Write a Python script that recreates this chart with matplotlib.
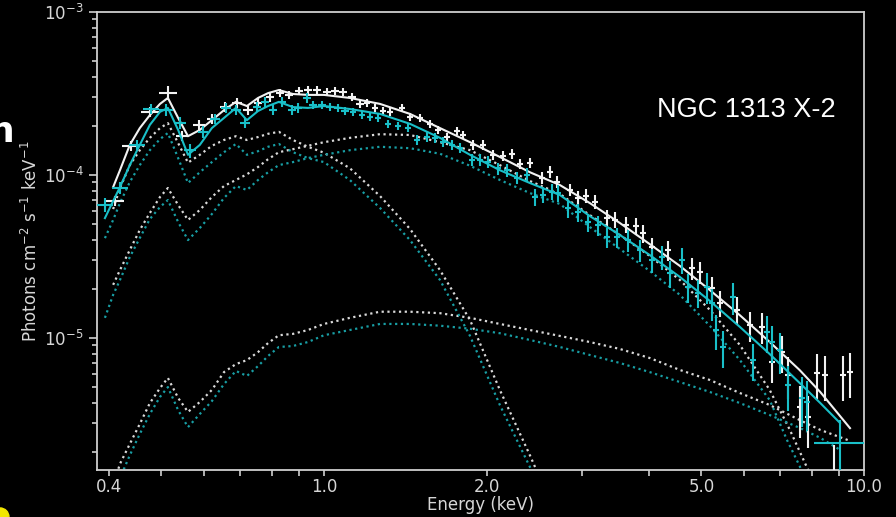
import numpy as np
import matplotlib
matplotlib.use("Agg")
import matplotlib.pyplot as plt
from matplotlib.ticker import FixedLocator, FixedFormatter, NullFormatter, LogLocator
from matplotlib.patches import Ellipse

nan = np.nan

# energy grid of the folded models (keV)
e_model = [0.393, 0.407, 0.419, 0.437, 0.456, 0.476, 0.497, 0.514, 0.537, 0.560,
           0.589, 0.620, 0.653, 0.687, 0.720, 0.755, 0.788, 0.825, 0.876, 0.934,
           1.000, 1.117, 1.270, 1.443, 1.640, 1.864, 2.117, 2.406, 2.567, 2.734,
           3.106, 3.530, 4.010, 4.560, 5.180, 5.890, 6.690, 7.200, 7.290, 7.600,
           7.780, 7.880, 8.110, 8.300, 9.030, 9.420]

# total model, white (pn) and cyan (MOS)
tot_w = [nan, 8.43e-5, 1.07e-4, 1.53e-4, 1.94e-4, 2.33e-4, 2.73e-4, 2.97e-4, 2.24e-4, 1.73e-4,
         1.89e-4, 2.17e-4, 2.50e-4, 2.81e-4, 2.65e-4, 2.97e-4, 3.18e-4, 3.32e-4, 3.14e-4, 3.10e-4,
         3.10e-4, 2.97e-4, 2.73e-4, 2.37e-4, 1.94e-4, 1.59e-4, 1.29e-4, 1.04e-4, nan, 8.68e-5,
         6.73e-5, 5.08e-5, 3.77e-5, 2.77e-5, 1.97e-5, 1.38e-5, 9.45e-6, nan, nan, 6.36e-6,
         nan, nan, nan, 4.66e-6, nan, 2.80e-6]
tot_c = [5.44e-5, 6.92e-5, 8.43e-5, 1.15e-4, 1.53e-4, 2.03e-4, 2.44e-4, 2.58e-4, 1.89e-4, 1.33e-4,
         1.53e-4, 1.94e-4, 2.24e-4, 2.58e-4, 2.17e-4, 2.47e-4, 2.65e-4, 2.81e-4, 2.61e-4, 2.58e-4,
         2.65e-4, 2.54e-4, 2.37e-4, 2.06e-4, 1.69e-4, 1.33e-4, 1.07e-4, 8.93e-5, nan, 7.54e-5,
         5.60e-5, 4.29e-5, 3.23e-5, 2.37e-5, 1.69e-5, 1.17e-5, 7.97e-6, nan, nan, 5.30e-6,
         nan, nan, nan, 3.99e-6, 3.01e-6, nan]

# disc component
disk_w = [nan, 6.18e-5, 8.32e-5, 1.15e-4, 1.42e-4, 1.69e-4, 1.94e-4, 2.08e-4, 1.57e-4, 1.19e-4,
          1.33e-4, 1.51e-4, 1.64e-4, 1.73e-4, 1.64e-4, 1.71e-4, 1.79e-4, 1.84e-4, 1.64e-4, 1.49e-4,
          1.37e-4, 1.10e-4, 7.43e-5, 4.67e-5, 2.61e-5, 1.29e-5, 4.80e-6, 1.91e-6, 1.17e-6] + [nan] * 17
disk_c = [4.10e-5, 5.30e-5, 6.73e-5, 9.06e-5, 1.15e-4, 1.42e-4, 1.66e-4, 1.81e-4, 1.27e-4, 8.93e-5,
          1.04e-4, 1.20e-4, 1.38e-4, 1.55e-4, 1.33e-4, 1.40e-4, 1.49e-4, 1.55e-4, 1.38e-4, 1.27e-4,
          1.20e-4, 9.31e-5, 6.28e-5, 3.99e-5, 2.27e-5, 1.03e-5, 3.88e-6, 1.62e-6, 1.01e-6] + [nan] * 17

# hot (cut-off) component
hot_w = [nan, 2.12e-5, 2.61e-5, 3.47e-5, 4.60e-5, 5.85e-5, 7.33e-5, 8.32e-5, 6.55e-5, 5.30e-5,
         6.10e-5, 7.33e-5, 8.56e-5, 9.32e-5, 1.01e-4, 1.12e-4, 1.25e-4, 1.38e-4, 1.44e-4, 1.51e-4,
         1.59e-4, 1.69e-4, 1.78e-4, 1.76e-4, 1.59e-4, 1.42e-4, 1.15e-4, 9.19e-5, nan, 7.65e-5,
         5.68e-5, 4.29e-5, 3.19e-5, 2.27e-5, 1.49e-5, 9.06e-6, 4.80e-6, nan, 2.73e-6, nan,
         nan, 1.55e-6, 1.17e-6, nan, nan, nan]
hot_c = [1.33e-5, 1.84e-5, 2.27e-5, 3.14e-5, 4.11e-5, 5.37e-5, 6.36e-5, 7.02e-5, 5.15e-5, 3.99e-5,
         4.73e-5, 5.76e-5, 7.23e-5, 8.56e-5, 8.09e-5, 9.32e-5, 1.04e-4, 1.15e-4, 1.20e-4, 1.27e-4,
         1.33e-4, 1.42e-4, 1.49e-4, 1.46e-4, 1.35e-4, 1.14e-4, 9.32e-5, 7.75e-5, nan, 6.64e-5,
         4.80e-5, 3.52e-5, 2.58e-5, 1.84e-5, 1.19e-5, 7.33e-6, 4.16e-6, 2.37e-6, nan, 1.64e-6,
         1.35e-6, nan, nan, nan, nan, nan]

# faint broad component
pl_w = [nan, 1.25e-6, 1.69e-6, 2.24e-6, 2.97e-6, 3.99e-6, 4.93e-6, 5.69e-6, 4.29e-6, 3.52e-6,
        4.05e-6, 4.80e-6, 6.18e-6, 6.92e-6, 7.32e-6, 8.20e-6, 9.31e-6, 1.04e-5, 1.06e-5, 1.12e-5,
        1.22e-5, 1.33e-5, 1.45e-5, 1.45e-5, 1.42e-5, 1.33e-5, 1.22e-5, 1.12e-5, nan, 1.03e-5,
        9.45e-6, 8.57e-6, 7.54e-6, 6.37e-6, 5.53e-6, 4.60e-6, 3.88e-6, nan, nan, 3.14e-6,
        nan, nan, nan, 2.73e-6, nan, 2.34e-6]
pl_c = [nan, 1.17e-6, 1.38e-6, 1.91e-6, 2.58e-6, 3.42e-6, 4.35e-6, 5.00e-6, 3.61e-6, 2.84e-6,
        3.42e-6, 4.10e-6, 5.22e-6, 6.28e-6, 5.85e-6, 6.73e-6, 7.76e-6, 8.81e-6, 8.93e-6, 9.45e-6,
        1.04e-5, 1.12e-5, 1.22e-5, 1.22e-5, 1.19e-5, 1.14e-5, 1.07e-5, 9.73e-6, nan, 8.81e-6,
        7.87e-6, 7.03e-6, 6.18e-6, 5.37e-6, 4.67e-6, 3.99e-6, 3.37e-6, nan, nan, 2.81e-6,
        nan, nan, nan, 2.44e-6, 2.06e-6, nan]

# pn data: energy, half bin width, flux, flux error
e_w = [0.410, 0.439, 0.476, 0.514, 0.546, 0.587, 0.620, 0.656, 0.690, 0.723,
       0.755, 0.794, 0.829, 0.861, 0.899, 0.934, 0.971, 1.013, 1.048, 1.084,
       1.127, 1.166, 1.201, 1.243, 1.286, 1.325, 1.395, 1.443, 1.506, 1.571,
       1.626, 1.690, 1.763, 1.809, 1.888, 1.970, 2.056, 2.145, 2.229, 2.307,
       2.407, 2.533, 2.621, 2.701, 2.855, 2.954, 3.056, 3.176, 3.343, 3.459,
       3.625, 3.783, 3.897, 4.050, 4.336, 4.803, 4.969, 5.230, 5.412, 5.819,
       6.151, 6.473, 6.755, 7.049, 7.232, 7.612, 7.876, 8.184, 8.468, 9.143,
       9.421, 8.799]
de_w = [0.0157, 0.0169, 0.0183, 0.0197, 0.0140, 0.0150, 0.0132, 0.0140, 0.0147, 0.0154,
        0.0129, 0.0135, 0.0141, 0.0147, 0.0153, 0.0159, 0.0166, 0.0173, 0.0179, 0.0185,
        0.0192, 0.0199, 0.0154, 0.0159, 0.0165, 0.0170, 0.0178, 0.0185, 0.0193, 0.0201,
        0.0208, 0.0216, 0.0226, 0.0231, 0.0241, 0.0252, 0.0263, 0.0274, 0.0285, 0.0295,
        0.0308, 0.0324, 0.0335, 0.0345, 0.0365, 0.0378, 0.0391, 0.0406, 0.0428, 0.0442,
        0.0464, 0.0484, 0.0498, 0.0518, 0.0555, 0.0614, 0.0636, 0.0669, 0.0692, 0.0744,
        0.0787, 0.0828, 0.0864, 0.0902, 0.0925, 0.0974, 0.1008, 0.1047, 0.1083, 0.1170,
        0.1205, 0.1126]
f_w = [6.93e-5, 1.51e-4, 2.44e-4, 3.19e-4, 1.73e-4, 2.03e-4, 2.21e-4, 2.61e-4, 2.77e-4, 2.50e-4,
       2.77e-4, 3.01e-4, 3.19e-4, 3.10e-4, 3.28e-4, 3.32e-4, 3.32e-4, 3.23e-4, 3.28e-4, 3.23e-4,
       3.01e-4, 2.73e-4, 2.77e-4, 2.58e-4, 2.47e-4, 2.44e-4, 2.58e-4, 2.27e-4, 2.24e-4, 2.06e-4,
       1.89e-4, 1.71e-4, 1.86e-4, 1.76e-4, 1.53e-4, 1.53e-4, 1.33e-4, 1.31e-4, 1.35e-4, 1.17e-4,
       1.19e-4, 9.59e-5, 1.04e-4, 9.06e-5, 8.09e-5, 7.23e-5, 7.43e-5, 6.83e-5, 5.45e-5, 5.30e-5,
       4.94e-5, 4.87e-5, 4.41e-5, 3.62e-5, 3.47e-5, 2.69e-5, 2.54e-5, 2.03e-5, 1.64e-5, 1.49e-5,
       1.20e-5, 1.17e-5, 7.12e-6, 8.20e-6, 5.93e-6, 3.77e-6, 3.27e-6, 6.10e-6, 5.93e-6, 5.93e-6,
       6.19e-6, 1.17e-6]
df_w = [4.9e-6, 1.07e-5, 1.72e-5, 3.16e-5, 1.22e-5, 1.43e-5, 1.56e-5, 1.84e-5, 1.96e-5, 1.77e-5,
        1.96e-5, 2.13e-5, 1.80e-5, 1.75e-5, 1.85e-5, 1.88e-5, 1.88e-5, 1.83e-5, 1.85e-5, 1.83e-5,
        1.70e-5, 1.54e-5, 1.56e-5, 1.46e-5, 1.40e-5, 1.38e-5, 1.46e-5, 1.28e-5, 1.27e-5, 1.16e-5,
        1.07e-5, 9.7e-6, 1.05e-5, 9.9e-6, 1.08e-5, 1.08e-5, 9.4e-6, 9.3e-6, 9.5e-6, 8.3e-6,
        8.4e-6, 8.1e-6, 8.8e-6, 7.7e-6, 6.9e-6, 7.2e-6, 7.3e-6, 6.8e-6, 6.2e-6, 6.0e-6,
        5.6e-6, 5.5e-6, 5.6e-6, 5.1e-6, 4.9e-6, 4.2e-6, 3.9e-6, 3.4e-6, 3.0e-6, 2.9e-6,
        2.5e-6, 2.5e-6, 1.81e-6, 2.09e-6, 1.68e-6, 1.33e-6, 1.16e-6, 1.90e-6, 1.84e-6, 1.84e-6,
        1.92e-6, 1.03e-6]

# MOS data
e_c = [0.393, 0.419, 0.451, 0.478, 0.510, 0.541, 0.565, 0.597, 0.628, 0.658,
       0.687, 0.714, 0.752, 0.778, 0.805, 0.836, 0.873, 0.895, 0.930, 0.954,
       0.992, 1.026, 1.062, 1.094, 1.132, 1.176, 1.217, 1.259, 1.314, 1.371,
       1.431, 1.487, 1.552, 1.605, 1.661, 1.726, 1.786, 1.880, 1.945, 2.012,
       2.100, 2.182, 2.277, 2.377, 2.459, 2.544, 2.644, 2.712, 2.830, 2.954,
       3.082, 3.217, 3.343, 3.488, 3.656, 3.848, 4.050, 4.226, 4.373, 4.602,
       4.722, 4.927, 5.120, 5.230, 5.320, 5.482, 5.721, 6.230, 6.613, 6.755,
       6.990, 7.232, 7.677, 7.843, 9.027]
de_c = [0.0134, 0.0143, 0.0154, 0.0163, 0.0152, 0.0138, 0.0144, 0.0127, 0.0134, 0.0140,
        0.0146, 0.0152, 0.0128, 0.0133, 0.0137, 0.0143, 0.0149, 0.0153, 0.0159, 0.0163,
        0.0169, 0.0175, 0.0181, 0.0187, 0.0145, 0.0150, 0.0156, 0.0161, 0.0168, 0.0175,
        0.0183, 0.0190, 0.0198, 0.0205, 0.0212, 0.0221, 0.0228, 0.0240, 0.0249, 0.0257,
        0.0269, 0.0279, 0.0291, 0.0304, 0.0315, 0.0325, 0.0338, 0.0347, 0.0362, 0.0378,
        0.0394, 0.0411, 0.0428, 0.0446, 0.0468, 0.0492, 0.0518, 0.0541, 0.0559, 0.0589,
        0.0604, 0.0630, 0.0655, 0.0669, 0.0681, 0.0701, 0.0732, 0.0797, 0.0846, 0.0864,
        0.0894, 0.0925, 0.0982, 0.1003, 0.962]
f_c = [6.55e-5, 8.32e-5, 1.53e-4, 2.54e-4, 2.50e-4, 2.08e-4, 1.42e-4, 1.84e-4, 2.21e-4, 2.58e-4,
       2.50e-4, 2.08e-4, 2.61e-4, 2.80e-4, 2.50e-4, 2.80e-4, 2.50e-4, 2.58e-4, 2.97e-4, 2.69e-4,
       2.69e-4, 2.61e-4, 2.58e-4, 2.47e-4, 2.44e-4, 2.33e-4, 2.27e-4, 2.24e-4, 2.06e-4, 2.00e-4,
       1.94e-4, 1.64e-4, 1.71e-4, 1.69e-4, 1.59e-4, 1.53e-4, 1.46e-4, 1.24e-4, 1.24e-4, 1.20e-4,
       1.10e-4, 1.07e-4, 9.59e-5, 1.00e-4, 7.33e-5, 7.54e-5, 7.87e-5, 7.75e-5, 6.27e-5, 5.93e-5,
       5.15e-5, 4.94e-5, 4.17e-5, 4.17e-5, 3.99e-5, 3.47e-5, 3.01e-5, 3.14e-5, 2.50e-5, 3.01e-5,
       2.06e-5, 1.89e-5, 2.06e-5, 1.64e-5, 1.12e-5, 8.81e-6, 1.79e-5, 7.33e-6, 1.09e-5, 9.45e-6,
       8.43e-6, 5.15e-6, 4.28e-6, 4.05e-6, 2.27e-6]
df_c = [6.5e-6, 7.1e-6, 1.08e-5, 1.79e-5, 2.12e-5, 1.76e-5, 1.40e-5, 1.56e-5, 1.56e-5, 1.82e-5,
        1.77e-5, 1.47e-5, 1.84e-5, 1.98e-5, 1.77e-5, 1.98e-5, 1.77e-5, 1.82e-5, 2.10e-5, 1.52e-5,
        1.52e-5, 1.48e-5, 1.46e-5, 1.40e-5, 1.38e-5, 1.32e-5, 1.28e-5, 1.27e-5, 1.16e-5, 1.13e-5,
        1.10e-5, 1.16e-5, 1.21e-5, 1.19e-5, 1.12e-5, 1.08e-5, 1.03e-5, 1.05e-5, 1.05e-5, 1.02e-5,
        9.3e-6, 9.1e-6, 8.1e-6, 9.9e-6, 8.3e-6, 8.5e-6, 8.9e-6, 8.8e-6, 8.0e-6, 7.5e-6,
        6.5e-6, 7.0e-6, 5.9e-6, 5.9e-6, 6.2e-6, 5.4e-6, 5.1e-6, 5.3e-6, 4.6e-6, 5.5e-6,
        4.1e-6, 3.7e-6, 4.4e-6, 3.7e-6, 2.7e-6, 2.24e-6, 4.0e-6, 1.86e-6, 2.8e-6, 2.40e-6,
        2.38e-6, 1.60e-6, 1.45e-6, 1.37e-6, 0.87e-6]

white = "#f2f2f2"
white_dot = "#d9d9d9"
cyan = "#19bfc8"
cyan_dot = "#189ea4"
grey = "#cfcfcf"

plt.rcParams["font.family"] = "DejaVu Sans"
fig = plt.figure(figsize=(8.96, 5.17), dpi=100, facecolor="black")
ax = fig.add_axes([0.1083, 0.0909, 0.8560, 0.8859], facecolor="black")

e = np.array(e_model)


def model_line(vals, **kw):
    v = np.array(vals, dtype=float)
    m = ~np.isnan(v)
    ax.plot(e[m], v[m], **kw)


# data crosses
ax.errorbar(e_w, f_w, xerr=de_w, yerr=df_w, fmt="none", ecolor=white, elinewidth=1.5, capsize=0, zorder=3)
for comp in (disk_w, hot_w, pl_w):
    model_line(comp, color=white_dot, lw=1.6, ls=(0, (1, 1.6)), zorder=2)
model_line(tot_w, color=white, lw=1.5, zorder=4)

ax.errorbar(e_c, f_c, xerr=de_c, yerr=df_c, fmt="none", ecolor=cyan, elinewidth=1.5, capsize=0, zorder=5)
for comp in (disk_c, hot_c, pl_c):
    model_line(comp, color=cyan_dot, lw=1.6, ls=(0, (1, 1.6)), zorder=2)
model_line(tot_c, color=cyan, lw=1.5, zorder=6)

ax.set_xscale("log")
ax.set_yscale("log")
ax.set_xlim(0.38, 10.0)
ax.set_ylim(1.55e-6, 1e-3)

# x ticks: every tick short, labels only at a few
ax.xaxis.set_major_locator(FixedLocator([0.4, 1.0, 2.0, 5.0, 10.0]))
ax.xaxis.set_major_formatter(FixedFormatter(["0.4", "1.0", "2.0", "5.0", "10.0"]))
ax.xaxis.set_minor_locator(FixedLocator([0.5, 0.6, 0.7, 0.8, 0.9, 3, 4, 6, 7, 8, 9]))
ax.xaxis.set_minor_formatter(NullFormatter())
ax.yaxis.set_major_locator(LogLocator(base=10))
ax.yaxis.set_minor_locator(LogLocator(base=10, subs=np.arange(2, 10)))
ax.yaxis.set_minor_formatter(NullFormatter())

ax.tick_params(axis="both", which="both", colors=grey, labelcolor="#d6d6d6", labelsize=12, width=1.2)
ax.tick_params(axis="x", which="both", length=4, pad=2)
ax.tick_params(axis="y", which="major", length=6)
ax.tick_params(axis="y", which="minor", length=3.5)
for sp in ax.spines.values():
    sp.set_color(grey)
    sp.set_linewidth(1.3)

ax.set_xlabel("Energy (keV)", color="#d6d6d6", fontsize=12, labelpad=0)
ax.set_ylabel("Photons cm$^{-2}$ s$^{-1}$ keV$^{-1}$", color="#d6d6d6", fontsize=12, labelpad=2)

ax.text(0.730, 0.786, "NGC 1313 X-2", transform=ax.transAxes, color="white",
        fontsize=19.5, family="Liberation Sans", va="center", ha="left")

# slide remnants at the left border
fig.text(-0.012, 0.745, "n", color="white", fontsize=26, fontweight="bold", va="center", ha="left")
fig.patches.append(Ellipse((0.0, 0.0), 0.02, 0.035, transform=fig.transFigure,
                           color="#f2e600", zorder=10))

fig.savefig("out.png", dpi=100, facecolor="black")
